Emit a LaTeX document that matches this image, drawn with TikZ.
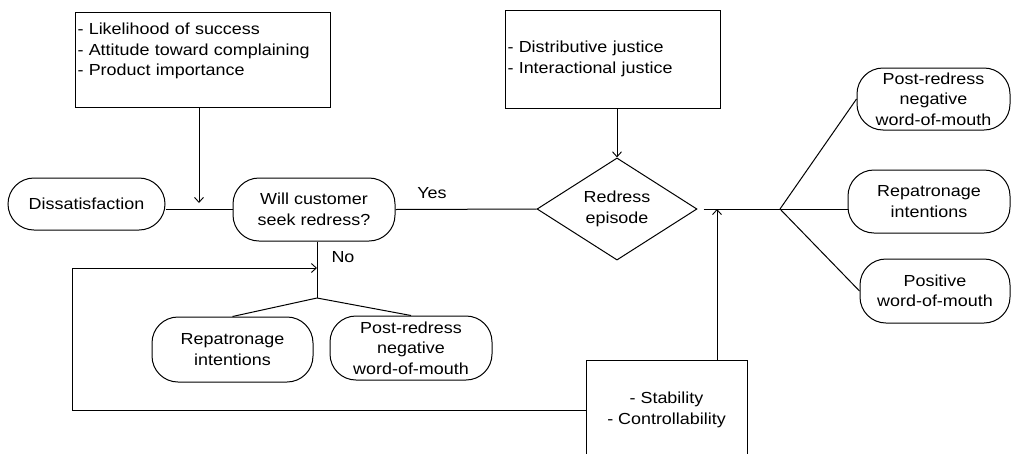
\documentclass[tikz,border=0pt]{standalone}
\usepackage{fontspec}
\setmainfont[FakeStretch=1.12]{Liberation Sans}
\usetikzlibrary{shapes.geometric,arrows.meta}
\begin{document}
\begin{tikzpicture}[x=1pt,y=-1pt,
  every node/.style={font=\fontsize{16}{20.5}\selectfont},
  box/.style={draw, line width=1pt, inner sep=0pt},
  pill/.style={draw, line width=1pt, rounded corners=26pt, align=center, inner sep=0pt},
  conn/.style={line width=1pt},
  tip/.style={-{Straight Barb[length=5pt,width=9pt,line width=0.9pt]}}]
\useasboundingbox (0,0) rectangle (1012,453);
\clip (0,0) rectangle (1012,453);
% boxes
\node[box, minimum width=255pt, minimum height=95pt, text width=250pt, align=left] (f1) at (202.5,59.5) {- Likelihood of success\\- Attitude toward complaining\\- Product importance\\\mbox{}};
\node[box, minimum width=215pt, minimum height=98pt, text width=210pt, align=left] (f2) at (612.5,59) {- Distributive justice\\- Interactional justice};
\node[pill, minimum width=157pt, minimum height=52pt] (dis) at (86.5,204) {Dissatisfaction};
\node[pill, minimum width=162pt, minimum height=63pt] (will) at (314,209.5) {Will customer\\seek redress?};
\node[draw, diamond, line width=1pt, minimum width=160pt, minimum height=94pt, inner sep=0pt, align=center] (red) at (617,209) {Redress\\episode};
\node[pill, minimum width=153pt, minimum height=62pt] (p1) at (933.5,99) {Post-redress\\negative\\word-of-mouth};
\node[pill, minimum width=162pt, minimum height=63pt] (r1) at (929,201.5) {Repatronage\\intentions};
\node[pill, minimum width=150pt, minimum height=64pt] (w1) at (935,291) {Positive\\word-of-mouth};
\node[pill, minimum width=161pt, minimum height=65pt] (r2) at (232.5,349.5) {Repatronage\\intentions};
\node[pill, minimum width=162pt, minimum height=64pt] (p2) at (411,348) {Post-redress\\negative\\word-of-mouth};
\node[box, minimum width=161pt, minimum height=100pt, align=center] (s) at (666.5,410) {- Stability\\- Controllability};
\node (yes) at (432,193) {Yes};
\node (no) at (343,257) {No};
% coordinates
\coordinate (j) at (780,209);
\coordinate (m1) at (199,203);
\coordinate (m2) at (717,209);
\coordinate (b) at (317,298);
\coordinate (c2) at (72,268);
\coordinate (m3) at (317,268);
% connectors
\draw[conn] (dis.east |- will.west) -- (will.west);
\draw[conn,tip] (f1.south -| m1) -- (m1);
\draw[conn] (will.east) -- (red.west);
\draw[conn,tip] (f2.south -| red.north) -- (red.north);
\draw[conn, shorten <=6pt] (red.east) -- (j);
\draw[conn] (j) -- (p1.west);
\draw[conn] (j) -- (j -| r1.west);
\draw[conn] (j) -- (w1.west);
\draw[conn,tip] (s.north -| m2) -- (m2);
\draw[conn] (will.south -| b) -- (b);
\draw[conn] (b) -- (r2.north);
\draw[conn] (b) -- (p2.north);
\draw[conn,tip] (s.west) -| (c2) -- (m3);
\end{tikzpicture}
\end{document}
